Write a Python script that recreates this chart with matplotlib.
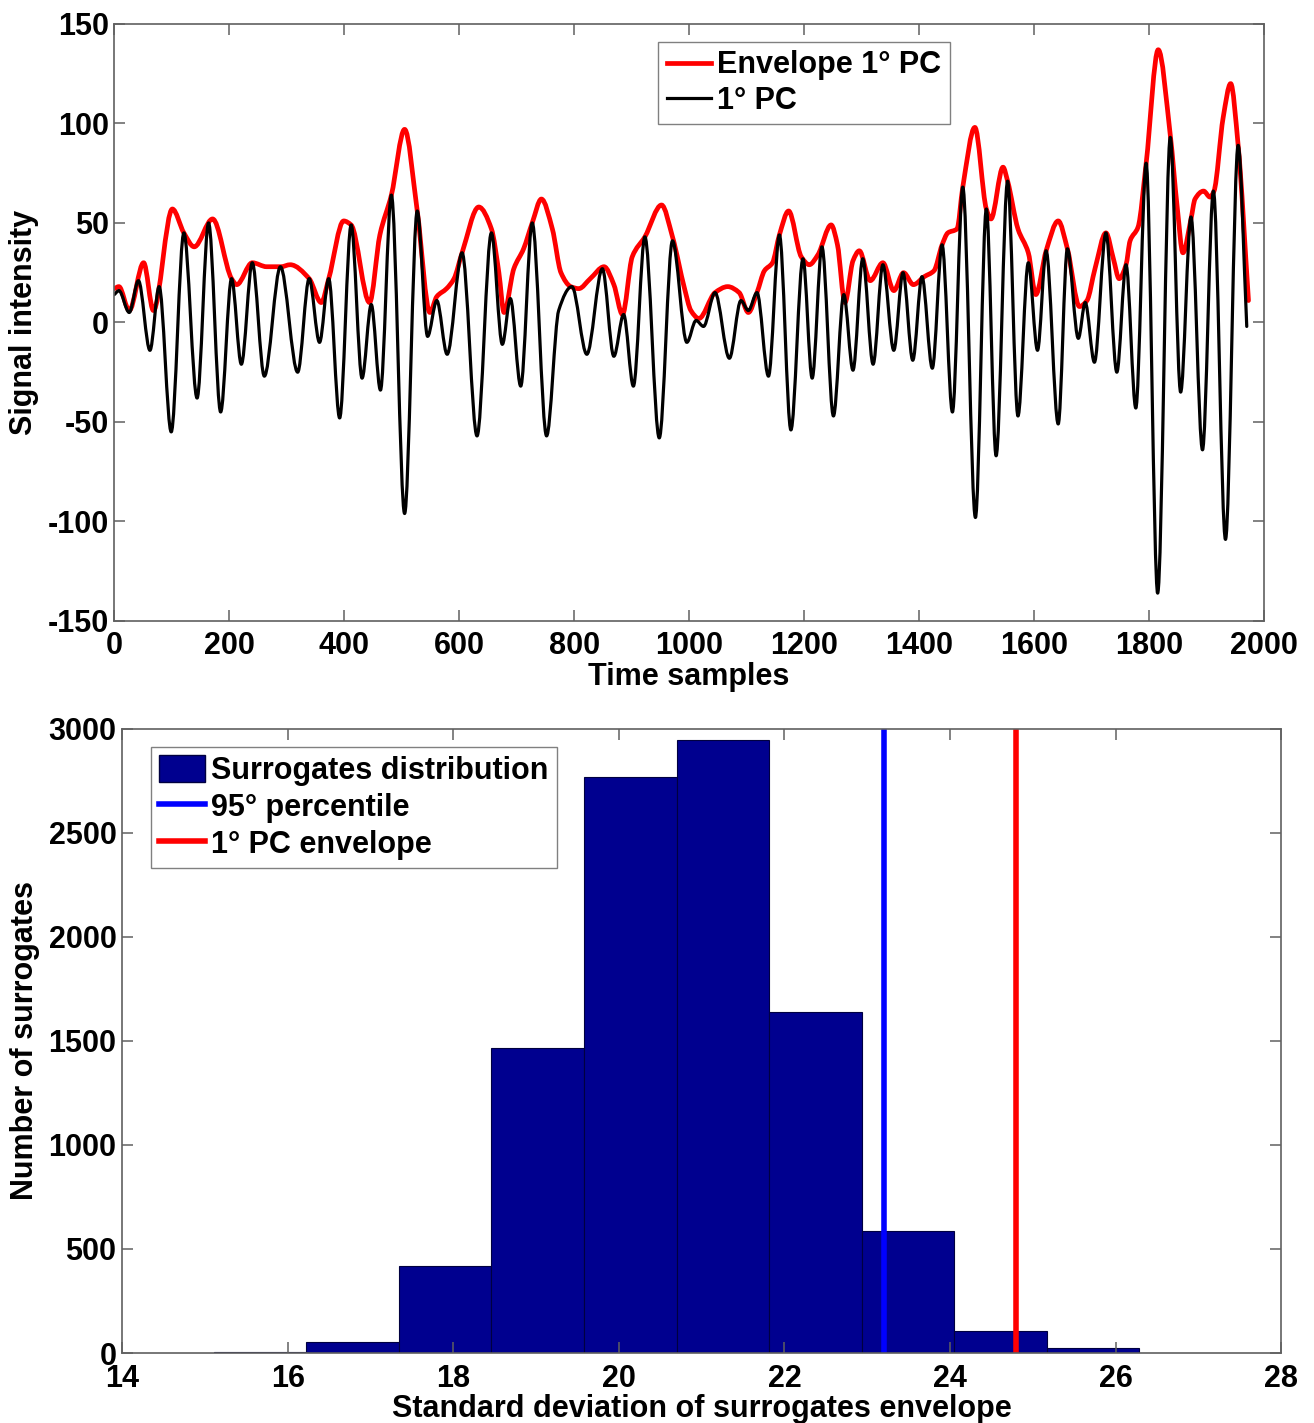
import numpy as np
import matplotlib
matplotlib.use("Agg")
import matplotlib.pyplot as plt
from matplotlib.path import Path
from matplotlib.patches import PathPatch, Patch
from matplotlib.lines import Line2D

plt.rcParams['font.family'] = ['Liberation Sans', 'DejaVu Sans']
plt.rcParams['font.weight'] = 'bold'
plt.rcParams['font.size'] = 22
plt.rcParams['axes.unicode_minus'] = False

# ---------------- data ----------------
# 1st PC: local extrema (time sample, value)
pc_t = [0, 8, 26, 42, 62, 78, 99, 121, 144, 164, 185, 204, 221, 240, 261, 289, 319,
        339, 357, 373, 392, 412, 431, 447, 463, 482, 505, 527, 545, 561, 579, 605,
        631, 656, 675, 689, 707, 727, 752, 773, 796, 822, 849, 869, 886, 903, 923,
        948, 971, 996, 1012, 1025, 1045, 1070, 1090, 1103, 1118, 1138, 1157, 1177,
        1198, 1214, 1231, 1251, 1269, 1285, 1302, 1320, 1337, 1356, 1372, 1389,
        1405, 1423, 1440, 1458, 1476, 1498, 1517, 1534, 1554, 1572, 1590, 1606,
        1621, 1642, 1658, 1677, 1689, 1705, 1725, 1744, 1760, 1777, 1795, 1815,
        1837, 1855, 1873, 1893, 1912, 1933, 1955, 1970]
pc_v = [14, 16, 5, 21, -14, 18, -55, 45, -38, 50, -45, 22, -21, 30, -27, 28, -25,
        22, -10, 22, -48, 49, -28, 9, -34, 64, -96, 56, -7, 11, -16, 35,
        -57, 45, -11, 12, -32, 50, -57, 6, 18, -16, 27, -17, 4, -32, 43,
        -58, 41, -10, 1, -2, 15, -18, 11, 6, 15, -27, 44, -54,
        32, -28, 38, -47, 14, -24, 32, -21, 29, -14, 25, -19,
        23, -23, 39, -45, 68, -98, 57, -67, 71, -47, 30, -14,
        36, -51, 37, -8, 10, -20, 45, -25, 29, -43, 80, -136,
        93, -35, 53, -64, 66, -109, 89, -2]

# Envelope of the 1st PC
env_t = [0, 8, 26, 51, 68, 101, 121, 139, 171, 204, 213, 240, 265, 290, 306, 339,
         360, 373, 399, 412, 444, 462, 482, 505, 527, 549, 561, 578, 591, 605, 634,
         656, 669, 678, 695, 712, 727, 743, 762, 777, 794, 808, 828, 852, 869, 884,
         901, 923, 952, 971, 992, 1003, 1017, 1045, 1067, 1087, 1103, 1118, 1131,
         1145, 1157, 1173, 1195, 1209, 1224, 1247, 1258, 1271, 1285, 1296, 1315,
         1337, 1356, 1373, 1390, 1409, 1426, 1440, 1450, 1466, 1476, 1497, 1517,
         1525, 1546, 1554, 1572, 1590, 1603, 1621, 1642, 1658, 1679, 1692, 1706,
         1725, 1738, 1748, 1760, 1767, 1781, 1795, 1816, 1837, 1849, 1859, 1873,
         1880, 1895, 1906, 1913, 1929, 1942, 1955, 1973]
env_v = [17, 18, 6, 30, 6, 57, 45, 38, 52, 22, 19, 30, 28, 28, 29, 22,
         10, 22, 51, 49, 10, 44, 64, 97, 56, 5, 13, 17, 22, 35, 58,
         47, 25, 5, 27, 37, 50, 62, 47, 25, 18, 17, 22, 28, 19, 4,
         33, 43, 59, 43, 17, 6, 2, 15, 18, 15, 5, 15, 26,
         30, 44, 56, 33, 29, 34, 49, 39, 10, 31, 36, 21,
         30, 16, 25, 19, 23, 26, 39, 45, 47, 68, 98, 57,
         52, 78, 71, 47, 35, 14, 36, 51, 37, 8, 11, 27,
         45, 32, 22, 29, 41, 48, 80, 137, 94, 58, 35, 52,
         62, 66, 63, 66, 103, 120, 89, 11]

# Surrogates histogram
bin_edges = [15.106, 16.224, 17.342, 18.460, 19.578, 20.696, 21.813, 22.931,
             24.049, 25.167, 26.285]
counts = [4, 52, 418, 1464, 2766, 2946, 1639, 586, 105, 24]
percentile_95 = 23.20
pc_envelope_std = 24.80

top_xticks = list(range(0, 2001, 200))
top_yticks = list(range(-150, 151, 50))
bot_xticks = list(range(14, 29, 2))
bot_yticks = list(range(0, 3001, 500))


# ---------------- helpers ----------------
def smooth_path(x, y):
    """Monotone cubic (PCHIP) curve through the points, drawn as Bezier path."""
    x = np.asarray(x, float)
    y = np.asarray(y, float)
    h = np.diff(x)
    d = np.diff(y) / h
    n = len(x)
    m = np.zeros(n)
    m[0], m[-1] = d[0], d[-1]
    for k in range(1, n - 1):
        if d[k - 1] * d[k] <= 0:
            m[k] = 0.0
        else:
            w1 = 2 * h[k] + h[k - 1]
            w2 = h[k] + 2 * h[k - 1]
            m[k] = (w1 + w2) / (w1 / d[k - 1] + w2 / d[k])
    verts = [(x[0], y[0])]
    codes = [Path.MOVETO]
    for k in range(n - 1):
        verts += [(x[k] + h[k] / 3, y[k] + m[k] * h[k] / 3),
                  (x[k + 1] - h[k] / 3, y[k + 1] - m[k + 1] * h[k] / 3),
                  (x[k + 1], y[k + 1])]
        codes += [Path.CURVE4] * 3
    return Path(verts, codes)


def style_axes(ax):
    for s in ax.spines.values():
        s.set_color('#606060')
        s.set_linewidth(1.2)
    ax.tick_params(direction='in', length=8, width=1.1, color='#606060',
                   top=True, right=True, labelsize=22)


fig = plt.figure(figsize=(13.14, 14.23), dpi=100)

# ---------------- top panel ----------------
ax1 = fig.add_axes([0.08699, 0.5636, 0.87496, 0.41961])
ax1.add_patch(PathPatch(smooth_path(env_t, env_v), fill=False, edgecolor='#ff0000',
                        lw=3.4, capstyle='round', joinstyle='round'))
ax1.add_patch(PathPatch(smooth_path(pc_t, pc_v), fill=False, edgecolor='#000000',
                        lw=2.3, capstyle='round', joinstyle='round'))
ax1.set_xlim(0, 2000)
ax1.set_ylim(-150, 150)
ax1.set_xticks(top_xticks)
ax1.set_yticks(top_yticks)
style_axes(ax1)
ax1.tick_params(axis='x', pad=7)
ax1.tick_params(axis='y', pad=4)
ax1.set_xlabel('Time samples', fontsize=22, fontweight='bold', labelpad=1)
ax1.set_ylabel('Signal intensity', fontsize=22, fontweight='bold', labelpad=6)
h1 = [Line2D([], [], color='#ff0000', lw=3.4), Line2D([], [], color='black', lw=2.3)]
leg1 = ax1.legend(h1, ['Envelope 1° PC', '1° PC'], loc='upper left',
                  bbox_to_anchor=(0.473, 0.97), borderaxespad=0, fancybox=False,
                  framealpha=1, edgecolor='#808080', fontsize=22,
                  handlelength=1.45, handletextpad=0.2, borderpad=0.28,
                  labelspacing=0.18)
leg1.get_frame().set_linewidth(1.0)

# ---------------- bottom panel ----------------
ax2 = fig.add_axes([0.09292, 0.04919, 0.88219, 0.43886])
edges = np.asarray(bin_edges)
ax2.bar(edges[:-1], counts, width=np.diff(edges), align='edge',
        color='#00008F', edgecolor='#000040', linewidth=0.8)
ax2.axvline(percentile_95, color='#0000ff', lw=4)
ax2.axvline(pc_envelope_std, color='#ff0000', lw=4)
ax2.set_xlim(14, 28)
ax2.set_ylim(0, 3000)
ax2.set_xticks(bot_xticks)
ax2.set_yticks(bot_yticks)
style_axes(ax2)
ax2.tick_params(axis='x', pad=8)
ax2.tick_params(axis='y', pad=4)
ax2.set_xlabel('Standard deviation of surrogates envelope', fontsize=22,
               fontweight='bold', labelpad=0)
ax2.set_ylabel('Number of surrogates', fontsize=22, fontweight='bold', labelpad=6)
h2 = [Patch(facecolor='#00008F', edgecolor='#000040'),
      Line2D([], [], color='#0000ff', lw=4),
      Line2D([], [], color='#ff0000', lw=4)]
leg2 = ax2.legend(h2, ['Surrogates distribution', '95° percentile', '1° PC envelope'],
                  loc='upper left', bbox_to_anchor=(0.025, 0.97), borderaxespad=0,
                  fancybox=False, framealpha=1, edgecolor='#808080', fontsize=22,
                  handlelength=1.5, handleheight=0.95, handletextpad=0.2,
                  borderpad=0.27, labelspacing=0.2)
leg2.get_frame().set_linewidth(1.0)

fig.savefig('out.png', dpi=100)
